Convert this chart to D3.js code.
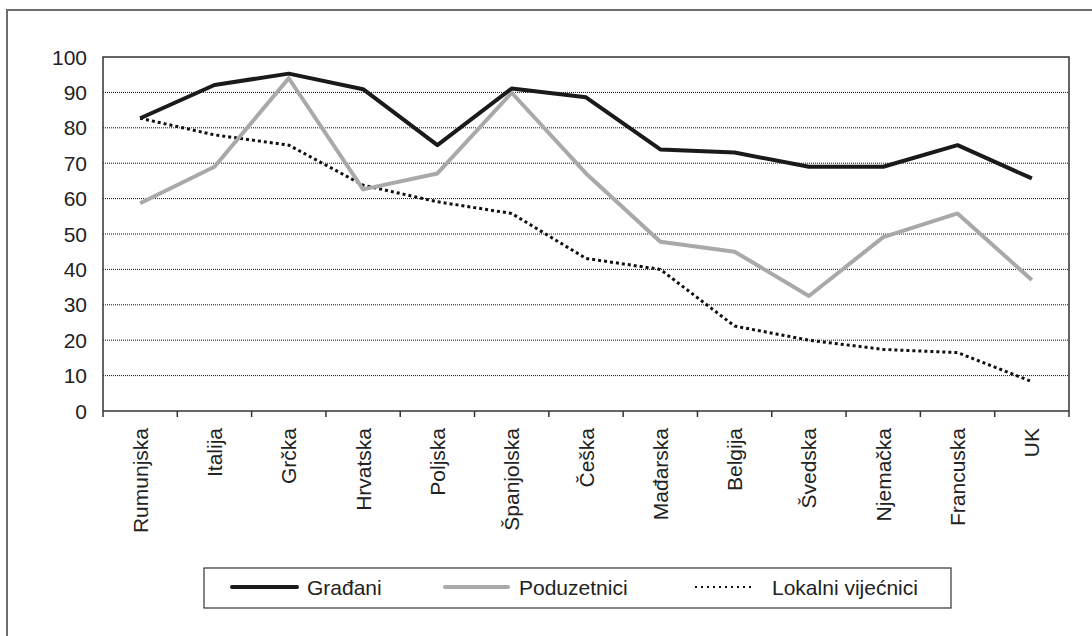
<!DOCTYPE html>
<html>
<head>
<meta charset="utf-8">
<script src="https://cdn.jsdelivr.net/npm/d3@7"></script>
<style>
  body { margin: 0; background: #fff; }
  text { font-family: "Liberation Sans", Arial, sans-serif; fill: #222; }
</style>
</head>
<body>
<div id="chart"></div>
<script>
var countries = ["Rumunjska", "Italija", "Grčka", "Hrvatska", "Poljska", "Španjolska", "Češka",
  "Mađarska", "Belgija", "Švedska", "Njemačka", "Francuska", "UK"];
var gradjani = [82.7, 92.1, 95.3, 90.9, 75.1, 91.1, 88.6, 73.9, 73.0, 69.0, 69.0, 75.1, 65.7];
var poduzetnici = [58.7, 69.0, 94.0, 62.6, 67.1, 89.9, 67.1, 47.8, 45.0, 32.5, 49.1, 55.8, 37.0];
var vijecnici = [82.7, 78.0, 75.1, 63.8, 59.1, 55.8, 43.1, 40.0, 24.0, 20.0, 17.4, 16.5, 8.3];
var yTicks = [0, 10, 20, 30, 40, 50, 60, 70, 80, 90, 100];
var seriesNames = ["Građani", "Poduzetnici", "Lokalni vijećnici"];

var W = 1092, H = 636;
var margin = { top: 57, right: 23, bottom: 225, left: 103 },
  width = W - margin.left - margin.right,
  height = H - margin.top - margin.bottom;

var svg = d3.select("#chart").append("svg")
  .attr("width", W)
  .attr("height", H);

// outer frame
svg.append("rect")
  .attr("x", 7).attr("y", 10)
  .attr("width", W).attr("height", H)
  .attr("fill", "none")
  .attr("stroke", "#6e6e6e")
  .attr("stroke-width", 2);

var g = svg.append("g")
  .attr("transform", "translate(" + margin.left + "," + margin.top + ")");

var x = d3.scaleBand().domain(countries).range([0, width]);
var y = d3.scaleLinear().domain([0, 100]).range([height, 0]);

// dotted grid
g.selectAll(".grid")
  .data(yTicks.filter(function (d) { return d > 0 && d < 100; }))
  .enter().append("line")
  .attr("x1", 0).attr("x2", width)
  .attr("y1", function (d) { return y(d); })
  .attr("y2", function (d) { return y(d); })
  .attr("stroke", "#111")
  .attr("stroke-width", 1)
  .attr("stroke-dasharray", "1,1");

// plot box
g.append("path")
  .attr("d", "M0," + height + "V0H" + width + "V" + height)
  .attr("fill", "none")
  .attr("stroke", "#333")
  .attr("stroke-width", 1.5);

// y axis labels
g.selectAll(".ylab")
  .data(yTicks)
  .enter().append("text")
  .attr("x", -16)
  .attr("y", function (d) { return y(d); })
  .attr("dy", "0.36em")
  .attr("text-anchor", "end")
  .attr("font-size", 21)
  .text(function (d) { return d; });

// x axis with boundary ticks
var xAxis = g.append("g")
  .attr("transform", "translate(0," + height + ")");
xAxis.append("line")
  .attr("x1", 0).attr("x2", width)
  .attr("stroke", "#333").attr("stroke-width", 1.5);
xAxis.selectAll(".tick")
  .data(countries.concat([null]))
  .enter().append("line")
  .attr("x1", function (d, i) { return i * x.step(); })
  .attr("x2", function (d, i) { return i * x.step(); })
  .attr("y1", 0).attr("y2", 6)
  .attr("stroke", "#333").attr("stroke-width", 1.5);
xAxis.selectAll(".xlab")
  .data(countries)
  .enter().append("text")
  .attr("transform", function (d) {
    return "translate(" + (x(d) + x.bandwidth() / 2) + ",17) rotate(-90)";
  })
  .attr("dy", "0.36em")
  .attr("text-anchor", "end")
  .attr("font-size", 21)
  .text(function (d) { return d; });

var line = d3.line()
  .x(function (d, i) { return x(countries[i]) + x.bandwidth() / 2; })
  .y(function (d) { return y(d); });

var styles = [
  { data: gradjani, color: "#1a1a1a", w: 4, dash: null },
  { data: poduzetnici, color: "#a9a9a9", w: 4, dash: null },
  { data: vijecnici, color: "#111", w: 3, dash: "3,3" }
];

styles.slice().reverse().forEach(function (s) {
  g.append("path")
    .datum(s.data)
    .attr("d", line)
    .attr("fill", "none")
    .attr("stroke", s.color)
    .attr("stroke-width", s.w)
    .attr("stroke-linejoin", "round")
    .attr("stroke-dasharray", s.dash);
});

// legend
var legend = svg.append("g");
legend.append("rect")
  .attr("x", 204).attr("y", 568)
  .attr("width", 747).attr("height", 40)
  .attr("fill", "#fff")
  .attr("stroke", "#333")
  .attr("stroke-width", 1.2);

var legX = [232, 445, 695];
var legLen = [65, 63, 58];
var textX = [307, 519, 772];
seriesNames.forEach(function (name, i) {
  legend.append("line")
    .attr("x1", legX[i]).attr("x2", legX[i] + legLen[i])
    .attr("y1", 587).attr("y2", 587)
    .attr("stroke", styles[i].color)
    .attr("stroke-width", i === 2 ? 2 : 4)
    .attr("stroke-linecap", i === 2 ? "butt" : "round")
    .attr("stroke-dasharray", i === 2 ? "2,4" : null);
  legend.append("text")
    .attr("x", textX[i]).attr("y", 587)
    .attr("dy", "0.36em")
    .attr("font-size", 21)
    .text(name);
});
</script>
</body>
</html>
